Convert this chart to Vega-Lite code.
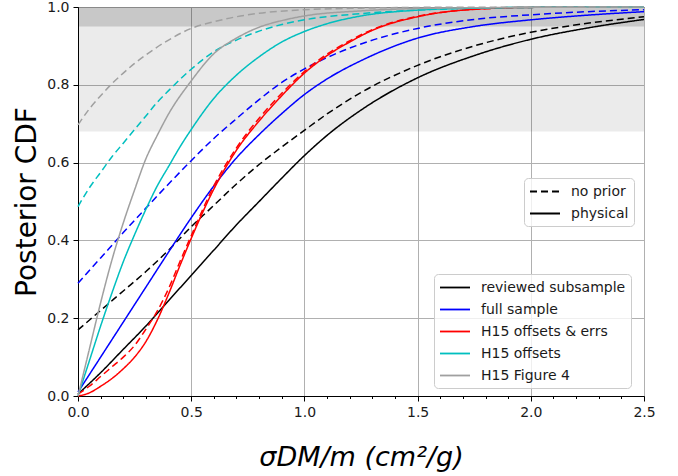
{
  "$schema": "https://vega.github.io/schema/vega-lite/v6.json",
  "width": 566,
  "height": 389,
  "autosize": {"type": "none"},
  "padding": {"left": 78, "top": 7, "right": 34, "bottom": 80},
  "background": "white",
  "config": {
    "view": {"stroke": "black", "strokeWidth": 1},
    "font": "DejaVu Sans",
    "axis": {
      "domainColor": "black", "domainWidth": 1, "tickColor": "black", "tickWidth": 1, "tickSize": 5,
      "labelFontSize": 14, "labelColor": "#1a1a1a", "labelFont": "DejaVu Sans",
      "titleFont": "DejaVu Sans", "titleFontWeight": "normal", "titleColor": "black",
      "gridColor": "#b0b0b0", "gridWidth": 1, "labelPadding": 4, "labelFlush": false, "labelOverlap": false
    },
    "legend": {
      "orient": "none", "labelFontSize": 14, "labelFont": "DejaVu Sans", "labelColor": "#1a1a1a",
      "symbolType": "M-1,0H3", "symbolStrokeWidth": 1.8, "symbolSize": 225, "labelOffset": 25,
      "rowPadding": 6, "padding": 5, "fillColor": "rgba(255,255,255,0.8)", "strokeColor": "#cccccc", "cornerRadius": 4
    }
  },
  "layer": [
    {
      "data": {"values": [{"cdf": 0.68, "cdf2": 1.0}]},
      "mark": {"type": "rect", "color": "black", "opacity": 0.08},
      "encoding": {
        "y": {"field": "cdf", "type": "quantitative", "scale": {"domain": [0, 1], "nice": false}},
        "y2": {"field": "cdf2"}
      }
    },
    {
      "data": {"values": [{"cdf": 0.95, "cdf2": 1.0}]},
      "mark": {"type": "rect", "color": "black", "opacity": 0.15},
      "encoding": {
        "y": {"field": "cdf", "type": "quantitative"},
        "y2": {"field": "cdf2"}
      }
    },
    {
      "data": {"values": [
        {"sample": "reviewed subsample", "prior": "physical", "x": 0, "cdf": 0.005},
        {"sample": "reviewed subsample", "prior": "physical", "x": 0.1, "cdf": 0.06},
        {"sample": "reviewed subsample", "prior": "physical", "x": 0.2, "cdf": 0.12},
        {"sample": "reviewed subsample", "prior": "physical", "x": 0.3, "cdf": 0.18},
        {"sample": "reviewed subsample", "prior": "physical", "x": 0.4, "cdf": 0.245},
        {"sample": "reviewed subsample", "prior": "physical", "x": 0.5, "cdf": 0.31},
        {"sample": "reviewed subsample", "prior": "physical", "x": 0.6, "cdf": 0.375},
        {"sample": "reviewed subsample", "prior": "physical", "x": 0.7, "cdf": 0.44},
        {"sample": "reviewed subsample", "prior": "physical", "x": 0.8, "cdf": 0.5},
        {"sample": "reviewed subsample", "prior": "physical", "x": 0.9, "cdf": 0.56},
        {"sample": "reviewed subsample", "prior": "physical", "x": 1.0, "cdf": 0.618},
        {"sample": "reviewed subsample", "prior": "physical", "x": 1.1, "cdf": 0.67},
        {"sample": "reviewed subsample", "prior": "physical", "x": 1.25, "cdf": 0.735},
        {"sample": "reviewed subsample", "prior": "physical", "x": 1.5, "cdf": 0.818},
        {"sample": "reviewed subsample", "prior": "physical", "x": 1.75, "cdf": 0.875},
        {"sample": "reviewed subsample", "prior": "physical", "x": 2.0, "cdf": 0.917},
        {"sample": "reviewed subsample", "prior": "physical", "x": 2.25, "cdf": 0.946},
        {"sample": "reviewed subsample", "prior": "physical", "x": 2.5, "cdf": 0.968},

        {"sample": "reviewed subsample", "prior": "no prior", "x": 0, "cdf": 0.17},
        {"sample": "reviewed subsample", "prior": "no prior", "x": 0.1, "cdf": 0.22},
        {"sample": "reviewed subsample", "prior": "no prior", "x": 0.2, "cdf": 0.27},
        {"sample": "reviewed subsample", "prior": "no prior", "x": 0.3, "cdf": 0.32},
        {"sample": "reviewed subsample", "prior": "no prior", "x": 0.4, "cdf": 0.375},
        {"sample": "reviewed subsample", "prior": "no prior", "x": 0.5, "cdf": 0.435},
        {"sample": "reviewed subsample", "prior": "no prior", "x": 0.6, "cdf": 0.49},
        {"sample": "reviewed subsample", "prior": "no prior", "x": 0.7, "cdf": 0.545},
        {"sample": "reviewed subsample", "prior": "no prior", "x": 0.8, "cdf": 0.595},
        {"sample": "reviewed subsample", "prior": "no prior", "x": 0.9, "cdf": 0.64},
        {"sample": "reviewed subsample", "prior": "no prior", "x": 1.0, "cdf": 0.683},
        {"sample": "reviewed subsample", "prior": "no prior", "x": 1.1, "cdf": 0.725},
        {"sample": "reviewed subsample", "prior": "no prior", "x": 1.25, "cdf": 0.78},
        {"sample": "reviewed subsample", "prior": "no prior", "x": 1.5, "cdf": 0.85},
        {"sample": "reviewed subsample", "prior": "no prior", "x": 1.75, "cdf": 0.9},
        {"sample": "reviewed subsample", "prior": "no prior", "x": 2.0, "cdf": 0.935},
        {"sample": "reviewed subsample", "prior": "no prior", "x": 2.25, "cdf": 0.958},
        {"sample": "reviewed subsample", "prior": "no prior", "x": 2.5, "cdf": 0.975},

        {"sample": "full sample", "prior": "physical", "x": 0, "cdf": 0.01},
        {"sample": "full sample", "prior": "physical", "x": 0.1, "cdf": 0.1},
        {"sample": "full sample", "prior": "physical", "x": 0.2, "cdf": 0.19},
        {"sample": "full sample", "prior": "physical", "x": 0.3, "cdf": 0.28},
        {"sample": "full sample", "prior": "physical", "x": 0.4, "cdf": 0.37},
        {"sample": "full sample", "prior": "physical", "x": 0.5, "cdf": 0.458},
        {"sample": "full sample", "prior": "physical", "x": 0.6, "cdf": 0.54},
        {"sample": "full sample", "prior": "physical", "x": 0.7, "cdf": 0.612},
        {"sample": "full sample", "prior": "physical", "x": 0.8, "cdf": 0.672},
        {"sample": "full sample", "prior": "physical", "x": 0.9, "cdf": 0.726},
        {"sample": "full sample", "prior": "physical", "x": 1.0, "cdf": 0.775},
        {"sample": "full sample", "prior": "physical", "x": 1.1, "cdf": 0.815},
        {"sample": "full sample", "prior": "physical", "x": 1.25, "cdf": 0.862},
        {"sample": "full sample", "prior": "physical", "x": 1.5, "cdf": 0.92},
        {"sample": "full sample", "prior": "physical", "x": 1.75, "cdf": 0.95},
        {"sample": "full sample", "prior": "physical", "x": 2.0, "cdf": 0.967},
        {"sample": "full sample", "prior": "physical", "x": 2.25, "cdf": 0.979},
        {"sample": "full sample", "prior": "physical", "x": 2.5, "cdf": 0.988},

        {"sample": "full sample", "prior": "no prior", "x": 0, "cdf": 0.29},
        {"sample": "full sample", "prior": "no prior", "x": 0.1, "cdf": 0.355},
        {"sample": "full sample", "prior": "no prior", "x": 0.2, "cdf": 0.42},
        {"sample": "full sample", "prior": "no prior", "x": 0.3, "cdf": 0.483},
        {"sample": "full sample", "prior": "no prior", "x": 0.4, "cdf": 0.545},
        {"sample": "full sample", "prior": "no prior", "x": 0.5, "cdf": 0.605},
        {"sample": "full sample", "prior": "no prior", "x": 0.6, "cdf": 0.662},
        {"sample": "full sample", "prior": "no prior", "x": 0.7, "cdf": 0.713},
        {"sample": "full sample", "prior": "no prior", "x": 0.8, "cdf": 0.762},
        {"sample": "full sample", "prior": "no prior", "x": 0.9, "cdf": 0.806},
        {"sample": "full sample", "prior": "no prior", "x": 1.0, "cdf": 0.841},
        {"sample": "full sample", "prior": "no prior", "x": 1.1, "cdf": 0.87},
        {"sample": "full sample", "prior": "no prior", "x": 1.25, "cdf": 0.905},
        {"sample": "full sample", "prior": "no prior", "x": 1.5, "cdf": 0.945},
        {"sample": "full sample", "prior": "no prior", "x": 1.75, "cdf": 0.968},
        {"sample": "full sample", "prior": "no prior", "x": 2.0, "cdf": 0.98},
        {"sample": "full sample", "prior": "no prior", "x": 2.25, "cdf": 0.988},
        {"sample": "full sample", "prior": "no prior", "x": 2.5, "cdf": 0.993},

        {"sample": "H15 offsets & errs", "prior": "physical", "x": 0, "cdf": 0.0},
        {"sample": "H15 offsets & errs", "prior": "physical", "x": 0.05, "cdf": 0.008},
        {"sample": "H15 offsets & errs", "prior": "physical", "x": 0.1, "cdf": 0.025},
        {"sample": "H15 offsets & errs", "prior": "physical", "x": 0.15, "cdf": 0.045},
        {"sample": "H15 offsets & errs", "prior": "physical", "x": 0.2, "cdf": 0.07},
        {"sample": "H15 offsets & errs", "prior": "physical", "x": 0.25, "cdf": 0.1},
        {"sample": "H15 offsets & errs", "prior": "physical", "x": 0.3, "cdf": 0.14},
        {"sample": "H15 offsets & errs", "prior": "physical", "x": 0.35, "cdf": 0.195},
        {"sample": "H15 offsets & errs", "prior": "physical", "x": 0.4, "cdf": 0.262},
        {"sample": "H15 offsets & errs", "prior": "physical", "x": 0.45, "cdf": 0.335},
        {"sample": "H15 offsets & errs", "prior": "physical", "x": 0.5, "cdf": 0.405},
        {"sample": "H15 offsets & errs", "prior": "physical", "x": 0.6, "cdf": 0.532},
        {"sample": "H15 offsets & errs", "prior": "physical", "x": 0.7, "cdf": 0.632},
        {"sample": "H15 offsets & errs", "prior": "physical", "x": 0.8, "cdf": 0.707},
        {"sample": "H15 offsets & errs", "prior": "physical", "x": 0.9, "cdf": 0.772},
        {"sample": "H15 offsets & errs", "prior": "physical", "x": 1.0, "cdf": 0.83},
        {"sample": "H15 offsets & errs", "prior": "physical", "x": 1.1, "cdf": 0.875},
        {"sample": "H15 offsets & errs", "prior": "physical", "x": 1.2, "cdf": 0.91},
        {"sample": "H15 offsets & errs", "prior": "physical", "x": 1.3, "cdf": 0.94},
        {"sample": "H15 offsets & errs", "prior": "physical", "x": 1.5, "cdf": 0.975},
        {"sample": "H15 offsets & errs", "prior": "physical", "x": 1.7, "cdf": 0.992},
        {"sample": "H15 offsets & errs", "prior": "physical", "x": 2.0, "cdf": 0.999},
        {"sample": "H15 offsets & errs", "prior": "physical", "x": 2.5, "cdf": 1.0},

        {"sample": "H15 offsets & errs", "prior": "no prior", "x": 0, "cdf": 0.005},
        {"sample": "H15 offsets & errs", "prior": "no prior", "x": 0.05, "cdf": 0.025},
        {"sample": "H15 offsets & errs", "prior": "no prior", "x": 0.1, "cdf": 0.05},
        {"sample": "H15 offsets & errs", "prior": "no prior", "x": 0.15, "cdf": 0.075},
        {"sample": "H15 offsets & errs", "prior": "no prior", "x": 0.2, "cdf": 0.1},
        {"sample": "H15 offsets & errs", "prior": "no prior", "x": 0.25, "cdf": 0.13},
        {"sample": "H15 offsets & errs", "prior": "no prior", "x": 0.3, "cdf": 0.172},
        {"sample": "H15 offsets & errs", "prior": "no prior", "x": 0.35, "cdf": 0.218},
        {"sample": "H15 offsets & errs", "prior": "no prior", "x": 0.4, "cdf": 0.276},
        {"sample": "H15 offsets & errs", "prior": "no prior", "x": 0.45, "cdf": 0.345},
        {"sample": "H15 offsets & errs", "prior": "no prior", "x": 0.5, "cdf": 0.412},
        {"sample": "H15 offsets & errs", "prior": "no prior", "x": 0.6, "cdf": 0.54},
        {"sample": "H15 offsets & errs", "prior": "no prior", "x": 0.7, "cdf": 0.638},
        {"sample": "H15 offsets & errs", "prior": "no prior", "x": 0.8, "cdf": 0.714},
        {"sample": "H15 offsets & errs", "prior": "no prior", "x": 0.9, "cdf": 0.778},
        {"sample": "H15 offsets & errs", "prior": "no prior", "x": 1.0, "cdf": 0.834},
        {"sample": "H15 offsets & errs", "prior": "no prior", "x": 1.1, "cdf": 0.879},
        {"sample": "H15 offsets & errs", "prior": "no prior", "x": 1.2, "cdf": 0.913},
        {"sample": "H15 offsets & errs", "prior": "no prior", "x": 1.3, "cdf": 0.942},
        {"sample": "H15 offsets & errs", "prior": "no prior", "x": 1.5, "cdf": 0.976},
        {"sample": "H15 offsets & errs", "prior": "no prior", "x": 1.7, "cdf": 0.992},
        {"sample": "H15 offsets & errs", "prior": "no prior", "x": 2.0, "cdf": 0.999},
        {"sample": "H15 offsets & errs", "prior": "no prior", "x": 2.5, "cdf": 1.0},

        {"sample": "H15 offsets", "prior": "physical", "x": 0, "cdf": 0.0},
        {"sample": "H15 offsets", "prior": "physical", "x": 0.05, "cdf": 0.09},
        {"sample": "H15 offsets", "prior": "physical", "x": 0.1, "cdf": 0.18},
        {"sample": "H15 offsets", "prior": "physical", "x": 0.15, "cdf": 0.265},
        {"sample": "H15 offsets", "prior": "physical", "x": 0.2, "cdf": 0.345},
        {"sample": "H15 offsets", "prior": "physical", "x": 0.25, "cdf": 0.415},
        {"sample": "H15 offsets", "prior": "physical", "x": 0.3, "cdf": 0.48},
        {"sample": "H15 offsets", "prior": "physical", "x": 0.35, "cdf": 0.54},
        {"sample": "H15 offsets", "prior": "physical", "x": 0.4, "cdf": 0.59},
        {"sample": "H15 offsets", "prior": "physical", "x": 0.45, "cdf": 0.64},
        {"sample": "H15 offsets", "prior": "physical", "x": 0.5, "cdf": 0.685},
        {"sample": "H15 offsets", "prior": "physical", "x": 0.6, "cdf": 0.765},
        {"sample": "H15 offsets", "prior": "physical", "x": 0.7, "cdf": 0.825},
        {"sample": "H15 offsets", "prior": "physical", "x": 0.8, "cdf": 0.872},
        {"sample": "H15 offsets", "prior": "physical", "x": 0.9, "cdf": 0.91},
        {"sample": "H15 offsets", "prior": "physical", "x": 1.0, "cdf": 0.937},
        {"sample": "H15 offsets", "prior": "physical", "x": 1.1, "cdf": 0.957},
        {"sample": "H15 offsets", "prior": "physical", "x": 1.25, "cdf": 0.977},
        {"sample": "H15 offsets", "prior": "physical", "x": 1.5, "cdf": 0.992},
        {"sample": "H15 offsets", "prior": "physical", "x": 1.75, "cdf": 0.997},
        {"sample": "H15 offsets", "prior": "physical", "x": 2.0, "cdf": 0.999},
        {"sample": "H15 offsets", "prior": "physical", "x": 2.5, "cdf": 1.0},

        {"sample": "H15 offsets", "prior": "no prior", "x": 0, "cdf": 0.487},
        {"sample": "H15 offsets", "prior": "no prior", "x": 0.05, "cdf": 0.535},
        {"sample": "H15 offsets", "prior": "no prior", "x": 0.1, "cdf": 0.575},
        {"sample": "H15 offsets", "prior": "no prior", "x": 0.15, "cdf": 0.615},
        {"sample": "H15 offsets", "prior": "no prior", "x": 0.2, "cdf": 0.65},
        {"sample": "H15 offsets", "prior": "no prior", "x": 0.25, "cdf": 0.685},
        {"sample": "H15 offsets", "prior": "no prior", "x": 0.3, "cdf": 0.72},
        {"sample": "H15 offsets", "prior": "no prior", "x": 0.35, "cdf": 0.755},
        {"sample": "H15 offsets", "prior": "no prior", "x": 0.4, "cdf": 0.785},
        {"sample": "H15 offsets", "prior": "no prior", "x": 0.5, "cdf": 0.84},
        {"sample": "H15 offsets", "prior": "no prior", "x": 0.6, "cdf": 0.885},
        {"sample": "H15 offsets", "prior": "no prior", "x": 0.7, "cdf": 0.915},
        {"sample": "H15 offsets", "prior": "no prior", "x": 0.8, "cdf": 0.938},
        {"sample": "H15 offsets", "prior": "no prior", "x": 0.9, "cdf": 0.955},
        {"sample": "H15 offsets", "prior": "no prior", "x": 1.0, "cdf": 0.967},
        {"sample": "H15 offsets", "prior": "no prior", "x": 1.25, "cdf": 0.983},
        {"sample": "H15 offsets", "prior": "no prior", "x": 1.5, "cdf": 0.992},
        {"sample": "H15 offsets", "prior": "no prior", "x": 1.75, "cdf": 0.997},
        {"sample": "H15 offsets", "prior": "no prior", "x": 2.0, "cdf": 0.999},
        {"sample": "H15 offsets", "prior": "no prior", "x": 2.5, "cdf": 1.0},

        {"sample": "H15 Figure 4", "prior": "physical", "x": 0, "cdf": 0.0},
        {"sample": "H15 Figure 4", "prior": "physical", "x": 0.05, "cdf": 0.12},
        {"sample": "H15 Figure 4", "prior": "physical", "x": 0.1, "cdf": 0.24},
        {"sample": "H15 Figure 4", "prior": "physical", "x": 0.15, "cdf": 0.35},
        {"sample": "H15 Figure 4", "prior": "physical", "x": 0.2, "cdf": 0.445},
        {"sample": "H15 Figure 4", "prior": "physical", "x": 0.25, "cdf": 0.53},
        {"sample": "H15 Figure 4", "prior": "physical", "x": 0.3, "cdf": 0.61},
        {"sample": "H15 Figure 4", "prior": "physical", "x": 0.35, "cdf": 0.67},
        {"sample": "H15 Figure 4", "prior": "physical", "x": 0.4, "cdf": 0.725},
        {"sample": "H15 Figure 4", "prior": "physical", "x": 0.5, "cdf": 0.81},
        {"sample": "H15 Figure 4", "prior": "physical", "x": 0.6, "cdf": 0.88},
        {"sample": "H15 Figure 4", "prior": "physical", "x": 0.7, "cdf": 0.92},
        {"sample": "H15 Figure 4", "prior": "physical", "x": 0.8, "cdf": 0.948},
        {"sample": "H15 Figure 4", "prior": "physical", "x": 0.9, "cdf": 0.965},
        {"sample": "H15 Figure 4", "prior": "physical", "x": 1.0, "cdf": 0.977},
        {"sample": "H15 Figure 4", "prior": "physical", "x": 1.25, "cdf": 0.99},
        {"sample": "H15 Figure 4", "prior": "physical", "x": 1.5, "cdf": 0.996},
        {"sample": "H15 Figure 4", "prior": "physical", "x": 2.0, "cdf": 0.999},
        {"sample": "H15 Figure 4", "prior": "physical", "x": 2.5, "cdf": 1.0},

        {"sample": "H15 Figure 4", "prior": "no prior", "x": 0, "cdf": 0.697},
        {"sample": "H15 Figure 4", "prior": "no prior", "x": 0.05, "cdf": 0.738},
        {"sample": "H15 Figure 4", "prior": "no prior", "x": 0.1, "cdf": 0.772},
        {"sample": "H15 Figure 4", "prior": "no prior", "x": 0.15, "cdf": 0.803},
        {"sample": "H15 Figure 4", "prior": "no prior", "x": 0.2, "cdf": 0.83},
        {"sample": "H15 Figure 4", "prior": "no prior", "x": 0.25, "cdf": 0.855},
        {"sample": "H15 Figure 4", "prior": "no prior", "x": 0.3, "cdf": 0.877},
        {"sample": "H15 Figure 4", "prior": "no prior", "x": 0.4, "cdf": 0.915},
        {"sample": "H15 Figure 4", "prior": "no prior", "x": 0.5, "cdf": 0.945},
        {"sample": "H15 Figure 4", "prior": "no prior", "x": 0.6, "cdf": 0.962},
        {"sample": "H15 Figure 4", "prior": "no prior", "x": 0.7, "cdf": 0.975},
        {"sample": "H15 Figure 4", "prior": "no prior", "x": 0.8, "cdf": 0.984},
        {"sample": "H15 Figure 4", "prior": "no prior", "x": 1.0, "cdf": 0.993},
        {"sample": "H15 Figure 4", "prior": "no prior", "x": 1.25, "cdf": 0.997},
        {"sample": "H15 Figure 4", "prior": "no prior", "x": 1.5, "cdf": 0.999},
        {"sample": "H15 Figure 4", "prior": "no prior", "x": 2.5, "cdf": 1.0}
      ]},
      "mark": {"type": "line", "strokeWidth": 1.5, "interpolate": "monotone"},
      "encoding": {
        "x": {
          "field": "x", "type": "quantitative",
          "scale": {"domain": [0, 2.5], "nice": false, "zero": false},
          "axis": {
            "title": "σDM/m (cm²/g)",
            "values": [0, 0.1, 0.2, 0.3, 0.4, 0.5, 0.6, 0.7, 0.8, 0.9, 1.0, 1.1, 1.2, 1.3, 1.4, 1.5, 1.6, 1.7, 1.8, 1.9, 2.0, 2.1, 2.2, 2.3, 2.4, 2.5],
            "labelExpr": "abs(datum.value*2 - round(datum.value*2)) < 0.000001 ? format(datum.value, '.1f') : ''",
            "tickDash": {"condition": {"test": "abs(datum.value*2 - round(datum.value*2)) < 0.000001", "value": [5, 0]}, "value": [2.5, 10]},
            "gridOpacity": {"condition": {"test": "abs(datum.value*2 - round(datum.value*2)) < 0.000001", "value": 1}, "value": 0},
            "titleFontSize": 27, "titleFontStyle": "italic", "titlePadding": 25
          }
        },
        "y": {
          "field": "cdf", "type": "quantitative",
          "axis": {
            "title": "Posterior CDF",
            "values": [0, 0.05, 0.1, 0.15, 0.2, 0.25, 0.3, 0.35, 0.4, 0.45, 0.5, 0.55, 0.6, 0.65, 0.7, 0.75, 0.8, 0.85, 0.9, 0.95, 1.0],
            "labelExpr": "abs(datum.value*5 - round(datum.value*5)) < 0.000001 ? format(datum.value, '.1f') : ''",
            "tickDash": {"condition": {"test": "abs(datum.value*5 - round(datum.value*5)) < 0.000001", "value": [5, 0]}, "value": [2.5, 10]},
            "gridOpacity": {"condition": {"test": "abs(datum.value*5 - round(datum.value*5)) < 0.000001", "value": 1}, "value": 0},
            "titleFontSize": 28, "titlePadding": 5
          }
        },
        "color": {
          "field": "sample", "type": "nominal",
          "scale": {
            "domain": ["reviewed subsample", "full sample", "H15 offsets & errs", "H15 offsets", "H15 Figure 4"],
            "range": ["#000000", "#0000ff", "#ff0000", "#00bfbf", "#a0a0a0"]
          },
          "legend": {"title": null, "legendX": 356, "legendY": 267}
        },
        "strokeDash": {
          "field": "prior", "type": "nominal",
          "scale": {"domain": ["no prior", "physical"], "range": [[7, 4], [1, 0]]},
          "legend": {"title": null, "legendX": 446, "legendY": 171, "symbolStrokeColor": "black"}
        }
      }
    }
  ]
}
